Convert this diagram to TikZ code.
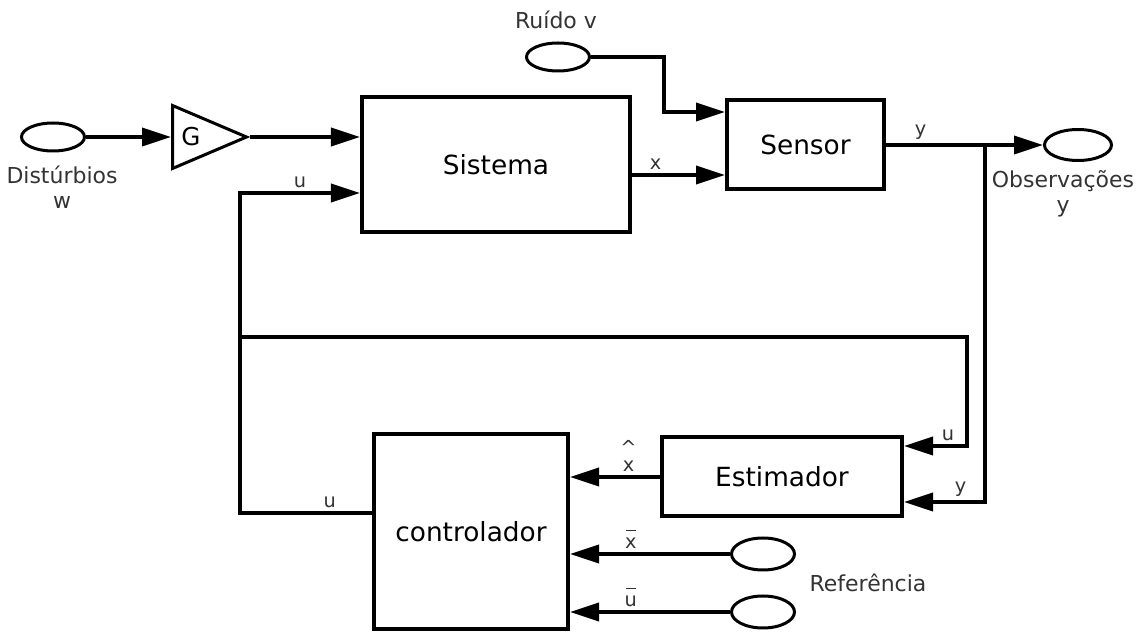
\documentclass[tikz,border=0pt]{standalone}
\usepackage{fontspec}
\setmainfont{DejaVu Sans}
\usetikzlibrary{arrows.meta,shapes.geometric}

\begin{document}
\begin{tikzpicture}[
  x=0.2mm, y=-0.2mm,
  >={Triangle[length=5.8mm,width=3.6mm]},
  block/.style={rectangle,draw,line width=0.8mm,inner sep=0pt,font=\fontsize{15}{18}\selectfont},
  port/.style={ellipse,draw,line width=0.6mm,minimum width=12.6mm,minimum height=5.6mm,inner sep=0pt},
  gain/.style={isosceles triangle,isosceles triangle stretches,draw,line width=0.6mm,minimum width=12.6mm,minimum height=14.8mm,inner sep=0pt},
  conn/.style={->,line width=0.7mm},
  vlab/.style={font=\fontsize{11}{10}\selectfont,text=black!80,inner sep=2pt,align=center},
  tlab/.style={font=\fontsize{12.5}{14.2}\selectfont,text=black!80,align=center}
]
  \useasboundingbox (0,0) rectangle (1138,632);

  \node[port] (dw) at (53,137) {};
  \node[tlab] (dwl) at (62,187) {Distúrbios\\w};
  \node[gain,anchor=west] (g) at (171,137) {};
  \node[font=\fontsize{14}{16}\selectfont] (gl) at (191,137) {G};
  \node[block,minimum width=53.6mm,minimum height=27mm] (sis) at (496,164.5) {Sistema};
  \node[port] (rv) at (558,57) {};
  \node[tlab] (rvl) at (556,20) {Ruído v};
  \node[block,minimum width=31.4mm,minimum height=17.8mm] (sen) at (805.5,145) {Sensor};
  \node[port,minimum width=13.4mm,minimum height=6.2mm] (obs) at (1078,145) {};
  \node[tlab] (obsl) at (1063,194) {Observações\\y};
  \node[block,minimum width=48mm,minimum height=15.8mm] (est) at (782,477) {Estimador};
  \node[block,minimum width=38.8mm,minimum height=39mm] (ctl) at (471,532) {controlador};
  \node[port,minimum height=6.4mm] (rx) at (763,554) {};
  \node[port,minimum height=6.4mm] (ru) at (763,612) {};
  \node[tlab] (refl) at (868,583) {Referência};

  \coordinate (uL) at (240,513);
  \coordinate (uT) at (240,193);
  \coordinate (uJ) at (240,337);
  \coordinate (uR) at (967,337);
  \coordinate (uE) at (967,446);
  \coordinate (yJ) at (985,145);
  \coordinate (yE) at (985,502);
  \coordinate (nv) at (664,112);
  \coordinate (xs) at (630,175);

  \draw[conn] (dw.east) -- (g.west);
  \draw[conn] (g.apex) -- (g.apex -| sis.west);
  \draw[conn] (rv.east) -| (nv) -- (nv -| sen.west);
  \draw[conn] (xs) -- node[vlab,above,pos=.27] {x} (xs -| sen.west);
  \draw[conn] (sen.east) -- node[vlab,above,pos=.22] {y} (obs.west);
  \draw[conn] (ctl.west |- uL) -- node[vlab,above,pos=.32] {u} (uL) -- (uT)
    -- node[vlab,above] {u} (uT -| sis.west);
  \draw[conn] (uJ) -- (uR) -- (uE) -- node[vlab,above,pos=.3] {u} (uE -| est.east);
  \draw[conn] (yJ) -- (yE) -- node[vlab,above,pos=.3] {y} (yE -| est.east);
  \draw[conn] (est.west) -- node[vlab,above,pos=.35] {\^{}\\x} (est.west -| ctl.east);
  \draw[conn] (rx.west) -- node[vlab,above,pos=.62] {\rule{0.5em}{0.5pt}\\x} (rx.west -| ctl.east);
  \draw[conn] (ru.west) -- node[vlab,above,pos=.62] {\rule{0.5em}{0.5pt}\\u} (ru.west -| ctl.east);
\end{tikzpicture}
\end{document}
